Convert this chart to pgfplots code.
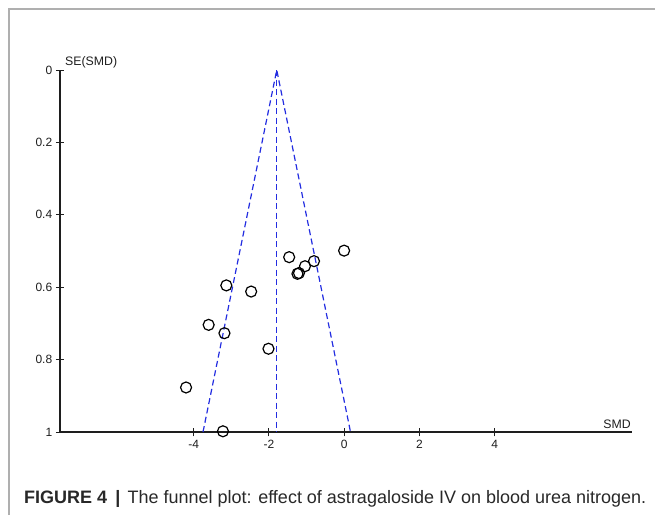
\documentclass[border=0pt]{standalone}
\usepackage{fontspec}
\setmainfont{Liberation Sans}
\usepackage{pgfplots}
\pgfplotsset{compat=1.18}
\definecolor{funnel}{RGB}{35,45,225}
\definecolor{framegray}{RGB}{175,175,175}
\definecolor{captxt}{RGB}{40,40,40}
\definecolor{axgray}{RGB}{30,30,30}
\begin{document}
\begin{tikzpicture}[x=1pt,y=1pt]
\useasboundingbox (0,0) rectangle (655,515);
\draw[framegray, line width=1.3pt] (9,0) -- (9,506) -- (656,506);
\begin{axis}[
  at={(60pt,83pt)}, anchor=south west, scale only axis,
  width=572pt, height=362pt,
  xmin=-7.55, xmax=7.65, ymin=0, ymax=1, y dir=reverse,
  axis x line=bottom, axis y line=left,
  axis line style={axgray, line width=1.2pt, -},
  xtick={-4,-2,0,2,4}, xticklabels={-4,-2,0,2,4},
  ytick={0,0.2,0.4,0.6,0.8,1}, yticklabels={0,0.2,0.4,0.6,0.8,1},
  tick align=center, major tick length=8.5pt,
  tick style={axgray, line width=1pt},
  tick label style={font=\fontsize{12}{13}\selectfont, text=axgray},
  clip=false,
]
\addplot[funnel, line width=1.2pt, dash pattern=on 6pt off 3.5pt] coordinates {(-3.75,1) (-1.79,0) (0.17,1)};
\addplot[funnel, line width=1.2pt, dash pattern=on 6pt off 3.5pt] coordinates {(-1.79,0) (-1.79,1)};
\addplot[only marks, mark=o, mark size=5.5pt, mark options={line width=1.2pt, black}] coordinates {
(0.00,0.499)
(-1.46,0.517)
(-0.80,0.528)
(-1.04,0.542)
(-1.24,0.563)
(-1.20,0.561)
(-3.13,0.595)
(-2.47,0.612)
(-3.60,0.704)
(-3.18,0.727)
(-2.01,0.770)
(-4.20,0.877)
(-3.22,0.998)
};
\end{axis}
\node[anchor=base west, inner sep=0pt, font=\fontsize{12.3}{13}\selectfont, text=axgray] at (65,449.5) {SE(SMD)};
\node[anchor=base east, inner sep=0pt, font=\fontsize{12.3}{13}\selectfont, text=axgray] at (631,87) {SMD};
\node[anchor=base west, inner sep=0pt, text=captxt] at (24,12) {\fontsize{18}{19}\selectfont\textbf{FIGURE 4\hspace{0.45em}\textbar}\hspace{0.4em}The funnel plot: effect of astragaloside IV on blood urea nitrogen.};
\end{tikzpicture}
\end{document}
